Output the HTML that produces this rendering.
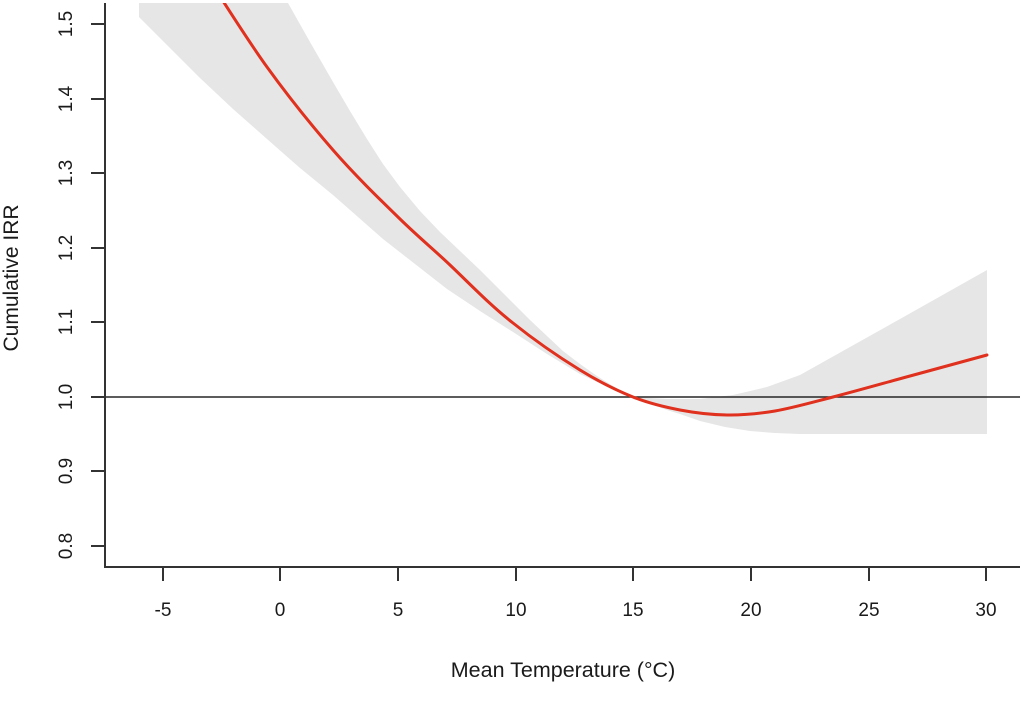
<!DOCTYPE html>
<html>
<head>
<meta charset="utf-8">
<style>
  html, body { margin: 0; padding: 0; background: #ffffff; }
  svg { display: block; }
  text { font-family: "Liberation Sans", Arial, sans-serif; fill: #1a1a1a; }
</style>
</head>
<body>
<svg width="1024" height="704" viewBox="0 0 1024 704" xmlns="http://www.w3.org/2000/svg">
  <defs>
    <clipPath id="plot">
      <rect x="105" y="3" width="915" height="564"/>
    </clipPath>
  </defs>

  <g clip-path="url(#plot)">
    <!-- confidence band -->
    <polygon fill="#e6e6e6" points="
      139,-60 275,-60 275,-20 288,3 310,42 333,82 350,111 367,139 383,164 400,187 420,211 440,232 460,251 480,270
      497,287 513,303 530,320 547,336 563,351 580,364 597,376 613,386 633,397
      667,399 700,399 733,395 767,387 800,375 850,347 900,319 987,270
      987,434 900,434 850,434 800,434 775,433 750,431 725,427 700,421 680,414 667,410 650,404 633,397
      610,388 580,374 547,354 513,332 480,311 447,289 415,264 383,239 358,217 333,195 300,168 267,139 233,109 200,78 170,48 139,17"/>

    <!-- reference line at 1.0 -->
    <line x1="105" y1="397" x2="1020" y2="397" stroke="#262626" stroke-width="1.6"/>

    <!-- estimate curve -->
    <path fill="none" stroke="#e0301e" stroke-width="3" stroke-linejoin="round" stroke-linecap="round"
      d="M205,-27
         C215.3,-11.3 245.7,37.5 267,67
         C288.3,96.5 310.8,124.5 333,150
         C355.2,175.5 380.3,199.8 400,219
         C419.7,238.2 434.8,250.5 450,265
         C470,284 491,306 513,323
         C535.2,340.8 560,357.7 580,370
         C600,382.3 616.3,390.3 633,397
         C649.7,403.7 664.3,407 680,410
         C695.7,413 711.2,414.8 727,415
         C742.8,415.2 757.3,414 775,411
         C792.7,408 810.5,402.8 833,397
         C855.5,391.2 884.3,383 910,376
         C935.7,369 974.2,358.5 987,355"/>
  </g>

  <!-- axes (L box) -->
  <polyline fill="none" stroke="#333333" stroke-width="2" points="105,3 105,567 1020,567"/>

  <!-- y ticks -->
  <g stroke="#333333" stroke-width="2">
    <line x1="91" y1="24" x2="105" y2="24"/>
    <line x1="91" y1="99" x2="105" y2="99"/>
    <line x1="91" y1="173" x2="105" y2="173"/>
    <line x1="91" y1="248" x2="105" y2="248"/>
    <line x1="91" y1="322" x2="105" y2="322"/>
    <line x1="91" y1="397" x2="105" y2="397"/>
    <line x1="91" y1="471" x2="105" y2="471"/>
    <line x1="91" y1="546" x2="105" y2="546"/>
  </g>

  <!-- x ticks -->
  <g stroke="#333333" stroke-width="2">
    <line x1="163" y1="567" x2="163" y2="581"/>
    <line x1="280" y1="567" x2="280" y2="581"/>
    <line x1="398" y1="567" x2="398" y2="581"/>
    <line x1="516" y1="567" x2="516" y2="581"/>
    <line x1="633" y1="567" x2="633" y2="581"/>
    <line x1="751" y1="567" x2="751" y2="581"/>
    <line x1="869" y1="567" x2="869" y2="581"/>
    <line x1="986" y1="567" x2="986" y2="581"/>
  </g>

  <!-- y tick labels (rotated) -->
  <g font-size="19" text-anchor="middle">
    <text transform="translate(72,24) rotate(-90)">1.5</text>
    <text transform="translate(72,99) rotate(-90)">1.4</text>
    <text transform="translate(72,173) rotate(-90)">1.3</text>
    <text transform="translate(72,248) rotate(-90)">1.2</text>
    <text transform="translate(72,322) rotate(-90)">1.1</text>
    <text transform="translate(72,397) rotate(-90)">1.0</text>
    <text transform="translate(72,471) rotate(-90)">0.9</text>
    <text transform="translate(72,546) rotate(-90)">0.8</text>
  </g>

  <!-- x tick labels -->
  <g font-size="19" text-anchor="middle">
    <text x="163" y="616">-5</text>
    <text x="280" y="616">0</text>
    <text x="398" y="616">5</text>
    <text x="516" y="616">10</text>
    <text x="633" y="616">15</text>
    <text x="751" y="616">20</text>
    <text x="869" y="616">25</text>
    <text x="986" y="616">30</text>
  </g>

  <!-- axis titles -->
  <text x="563" y="677" font-size="21.5" text-anchor="middle">Mean Temperature (°C)</text>
  <text transform="translate(18,278) rotate(-90)" font-size="21" text-anchor="middle">Cumulative IRR</text>
</svg>
</body>
</html>
